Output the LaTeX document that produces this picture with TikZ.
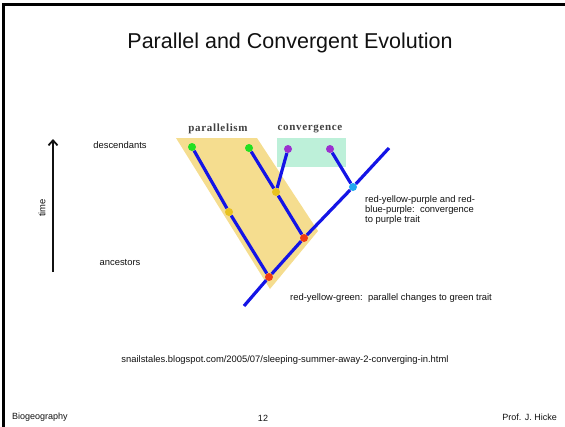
\documentclass[tikz,border=0pt]{standalone}
\usepackage{fontspec}
\setmainfont{Liberation Sans}
\newfontfamily\cladefont[LetterSpace=6]{Liberation Serif}
\usetikzlibrary{arrows.meta}
\definecolor{ink}{HTML}{111111}
\definecolor{branchblue}{HTML}{1414E6}
\definecolor{parsoft}{HTML}{F5DD8F}
\definecolor{consoft}{HTML}{BDF0D9}
\definecolor{greentip}{HTML}{22E022}
\definecolor{purpletip}{HTML}{9B30D0}
\definecolor{redtip}{HTML}{F03A14}
\definecolor{yellowtip}{HTML}{E8C21E}
\definecolor{cyantip}{HTML}{20A8F0}
\tikzset{
  label/.style={font=\fontsize{9.4}{10.2}\selectfont,text=ink,inner sep=0pt},
  footlabel/.style={label,font=\fontsize{9}{10}\selectfont},
  branch/.style={line width=3.2pt,draw=branchblue},
  dot/.style={circle,inner sep=0pt,minimum size=8pt,draw=none},
  cladelabel/.style={font=\cladefont\bfseries\fontsize{11}{12}\selectfont,text=ink!80,inner sep=0pt},
  timearrow/.style={-{Straight Barb[length=5pt,width=9pt]},line width=1.8pt,draw=ink}
}
\begin{document}
\begin{tikzpicture}[x=1pt,y=-1pt]
  \useasboundingbox (0,0) rectangle (565,426);
  \draw[line width=2.4pt,line cap=rect] (3.5,426) -- (3.5,4.5) -- (565,4.5);

  \node[font=\fontsize{21.5}{25}\selectfont,text=ink] (title) at (290,43) {Parallel and Convergent Evolution};

  \fill[parsoft] (176,138) -- (257,138) -- (318,231) -- (270,289) -- cycle;
  \fill[consoft] (277,138) rectangle (346,167);
  \node[cladelabel] (par) at (218,129) {parallelism};
  \node[cladelabel] (con) at (310,129) {convergence};

  \coordinate (root) at (244,306);
  \coordinate (top) at (389,148);
  \node[dot,fill=redtip] (r1) at (269,277) {};
  \node[dot,fill=redtip] (r2) at (304,238) {};
  \node[dot,fill=cyantip] (cy) at (353,187) {};
  \node[dot,fill=yellowtip] (y1) at (229,212) {};
  \node[dot,fill=yellowtip] (y2) at (276,192) {};
  \node[dot,fill=greentip] (g1) at (192,147) {};
  \node[dot,fill=greentip] (g2) at (249,148) {};
  \node[dot,fill=purpletip] (p1) at (288,149) {};
  \node[dot,fill=purpletip] (p2) at (330,149) {};

  \draw[branch] (root) -- (r1) -- (r2) -- (cy) -- (top);
  \draw[branch] (r1) -- (y1) -- (g1);
  \draw[branch] (r2) -- (y2) -- (g2);
  \draw[branch] (y2) -- (p1);
  \draw[branch] (cy) -- (p2);

  \coordinate (tlow) at (53,272);
  \coordinate (thigh) at (53,139);
  \draw[timearrow] (tlow) -- (thigh);
  \node[label,rotate=90] (time) at (42,208) {time};
  \node[label] (desc) at (120,145) {descendants};
  \node[label] (anc) at (120,263) {ancestors};

  \node[label,anchor=north west,align=left] (conv) at (365,195) {red-yellow-purple and red-\\blue-purple:\ \ convergence\\to purple trait};
  \node[label,anchor=west] (para) at (290,298) {red-yellow-green:\ \ parallel changes to green trait};

  \node[label] (src) at (285,360) {snailstales.blogspot.com/2005/07/sleeping-summer-away-2-converging-in.html};

  \node[footlabel,anchor=west] (course) at (12,417) {Biogeography};
  \node[footlabel] (page) at (263,418) {12};
  \node[footlabel,anchor=east] (prof) at (557,417) {Prof. J. Hicke};
\end{tikzpicture}
\end{document}
